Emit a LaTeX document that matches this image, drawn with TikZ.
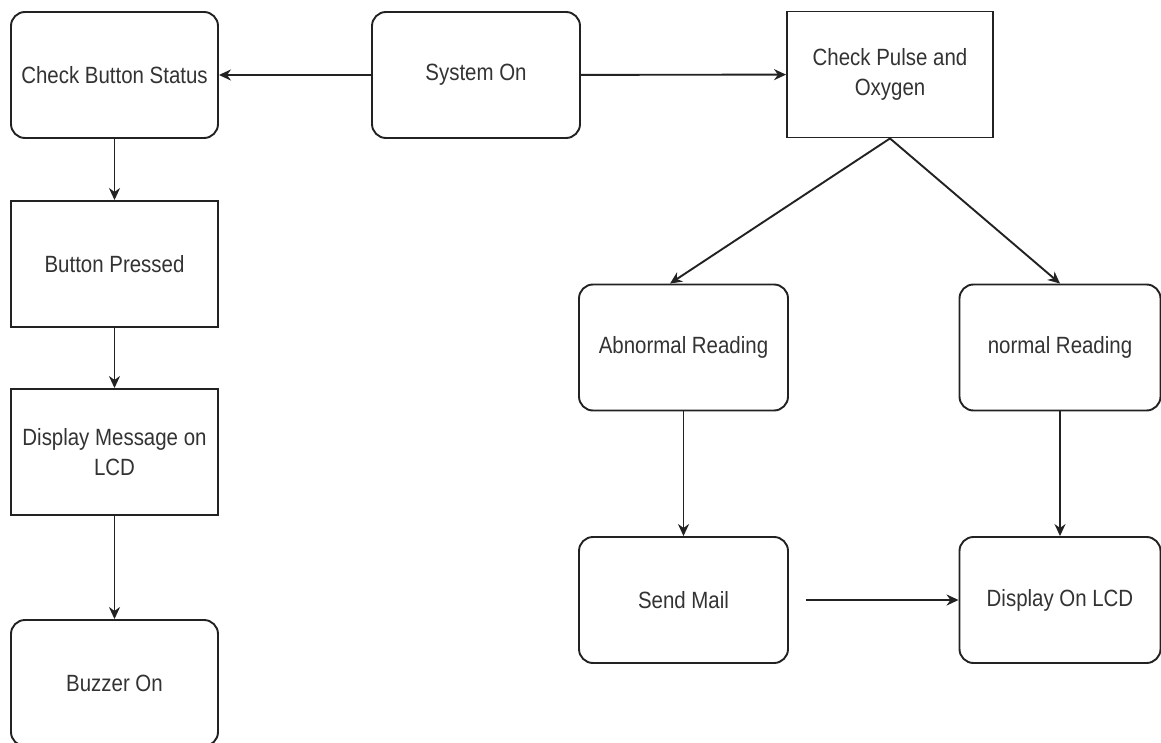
\documentclass[tikz,border=0pt]{standalone}
\usepackage{fontspec}
\setmainfont{Liberation Sans}[FakeStretch=0.87]
\usetikzlibrary{arrows.meta,calc}
\definecolor{boxline}{HTML}{222222}
\definecolor{boxtext}{HTML}{333333}
\tikzset{
	roundbox/.style={draw=boxline, line width=1.9pt, rounded corners=14pt, minimum width=207pt, minimum height=126pt, inner sep=0pt, align=center, text=boxtext, font=\fontsize{23.5}{30}\selectfont},
	squarebox/.style={roundbox, sharp corners},
	flow/.style={draw=boxline, line width=1.9pt, -{Stealth[length=12pt,width=11pt]}}
}

\begin{document}
\begin{tikzpicture}[x=1pt,y=-1pt]
			%%%%% START %%%%%
			\clip (0,0) rectangle (1161,743);
			\fill[white] (0,0) rectangle (1161,743);
			
			% left column
			\node[roundbox] (btnstatus) at (114.5, 75) {Check Button Status};
			\node[squarebox] (pressed) at (114.5, 264) {Button Pressed};
			\node[squarebox] (dispmsg) at (114.5, 452) {Display Message on\\LCD};
			\node[roundbox] (buzzer) at (114.5, 683) {Buzzer On};
			
			% top row
			\node[roundbox, minimum width=208pt] (syson) at (476, 75) {System On};
			\node[squarebox, minimum width=206pt] (pulse) at (890, 74.5) {Check Pulse and\\Oxygen};
			
			% right part
			\node[roundbox, minimum width=209pt] (abnormal) at (683.5, 347.5) {Abnormal Reading};
			\node[roundbox, minimum width=201pt] (normal) at (1060, 347.5) {normal Reading};
			\node[roundbox, minimum width=209pt] (mail) at (683.5, 600) {Send Mail};
			\node[roundbox, minimum width=201pt] (lcd) at (1060, 600) {Display On LCD};
			
			\draw[flow] (syson) -- (btnstatus);
			\draw[flow] (syson) -- (pulse);
			\draw[flow] (btnstatus) -- (pressed);
			\draw[flow] (pressed) -- (dispmsg);
			\draw[flow] (dispmsg) -- (buzzer);
			
			\draw[flow] (pulse.south) -- ([xshift=-13.5pt]abnormal.north);
			\draw[flow] (pulse.south) -- (normal.north);
			\draw[flow] (abnormal) -- (mail);
			\draw[flow] (normal) -- (lcd);
			\draw[flow, shorten <=17pt] (mail) -- (lcd);
			
			%%%%% END %%%%%
\end{tikzpicture}
\end{document}
